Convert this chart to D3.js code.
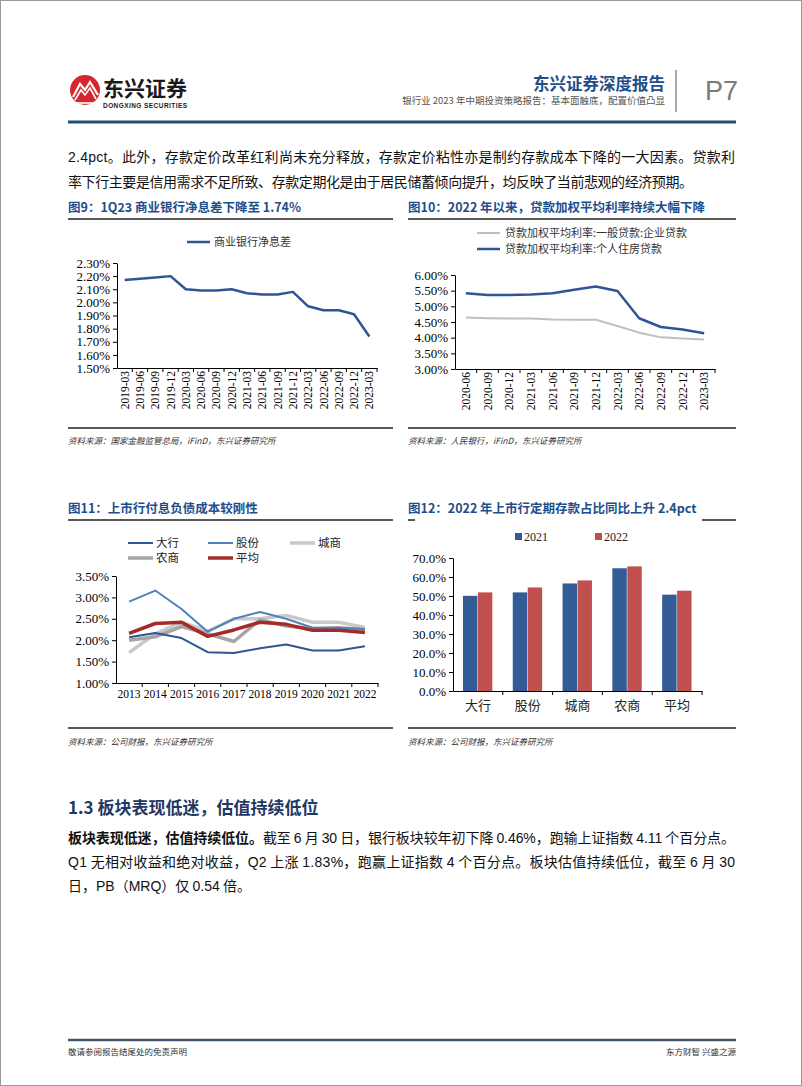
<!DOCTYPE html>
<html><head><meta charset="utf-8">
<script src="https://cdn.jsdelivr.net/npm/d3@7"></script>
<style>body{margin:0;background:#fff}svg{display:block}</style></head>
<body>
<svg id="c" width="802" height="1086"></svg>
<script>
// ---------- data ----------
const nimCats = ["2019-03","2019-06","2019-09","2019-12","2020-03","2020-06","2020-09","2020-12","2021-03","2021-06","2021-09","2021-12","2022-03","2022-06","2022-09","2022-12","2023-03"];
const nimValues = [2.17,2.18,2.19,2.20,2.10,2.09,2.09,2.10,2.07,2.06,2.06,2.08,1.97,1.94,1.94,1.91,1.74];
const nimTicks = [1.5,1.6,1.7,1.8,1.9,2.0,2.1,2.2,2.3];

const rateCats = ["2020-06","2020-09","2020-12","2021-03","2021-06","2021-09","2021-12","2022-03","2022-06","2022-09","2022-12","2023-03"];
const corpLoanRate = [4.64,4.62,4.61,4.61,4.58,4.57,4.57,4.37,4.16,4.01,3.97,3.94];
const mortgageRate = [5.42,5.36,5.36,5.38,5.42,5.53,5.63,5.49,4.62,4.34,4.26,4.14];
const rateTicks = [3.0,3.5,4.0,4.5,5.0,5.5,6.0];

const years = ["2013","2014","2015","2016","2017","2018","2019","2020","2021","2022"];
const costBig = [2.07,2.17,2.05,1.72,1.70,1.81,1.90,1.76,1.76,1.86];
const costJoint = [2.90,3.16,2.73,2.20,2.50,2.66,2.50,2.29,2.29,2.26];
const costCity = [1.71,2.15,2.42,2.21,2.50,2.50,2.58,2.42,2.42,2.30];
const costRural = [2.00,2.08,2.32,2.15,1.97,2.48,2.33,2.27,2.29,2.25];
const costAvg = [2.16,2.39,2.42,2.09,2.24,2.42,2.37,2.23,2.23,2.18];
const costTicks = [1.0,1.5,2.0,2.5,3.0,3.5];

const bankTypes = ["大行","股份","城商","农商","平均"];
const time2021 = [50.1,51.9,56.6,64.6,50.7];
const time2022 = [51.9,54.5,58.2,65.6,52.8];
const shareTicks = [0,10,20,30,40,50,60,70];

// ---------- setup ----------
const svg = d3.select("#c");
const CJK = "'Noto Sans CJK SC','Noto Sans',sans-serif";
const SERIF = "'Liberation Serif','DejaVu Serif',serif";
const SANS = "'Liberation Sans',Arial,'Noto Sans CJK SC',sans-serif";
const BLUE = "#2f5597", TITLE = "#1f4e8c";

svg.append("rect").attr("x",0.5).attr("y",0.5).attr("width",801).attr("height",1085)
  .attr("fill","#fff").attr("stroke","#9a9a9a");

// ---------- header ----------
const logo = svg.append("g");
logo.append("circle").attr("cx",85).attr("cy",90).attr("r",15).attr("fill","#d7262e");
logo.append("path").attr("d","M73,97 L80,84 L85,90 L90,82 L98,95").attr("fill","none").attr("stroke","#fff").attr("stroke-width",2.2);
logo.append("path").attr("d","M75,100 L81,90 L85,95 L90,88 L96,99").attr("fill","none").attr("stroke","#fff").attr("stroke-width",1.6);
logo.append("path").attr("d","M74,103 L96,103").attr("stroke","#fff").attr("stroke-width",1.6);
svg.append("text").attr("x",103).attr("y",96).text("东兴证券")
  .attr("font-family",CJK).attr("font-weight","bold").attr("font-size",21).attr("fill","#1a1a1a").attr("textLength",84);
svg.append("text").attr("x",103).attr("y",108).text("DONGXING SECURITIES")
  .attr("font-family",SANS).attr("font-weight","bold").attr("font-size",6.5).attr("fill","#1a1a1a").attr("textLength",84);

svg.append("text").attr("x",665).attr("y",90).attr("text-anchor","end").text("东兴证券深度报告")
  .attr("font-family",CJK).attr("font-weight","bold").attr("font-size",16.5).attr("fill",TITLE);
svg.append("text").attr("x",665).attr("y",104).attr("text-anchor","end")
  .text("银行业 2023 年中期投资策略报告：基本面触底，配置价值凸显")
  .attr("font-family",CJK).attr("font-size",9.5).attr("fill","#555");
svg.append("line").attr("x1",676).attr("x2",676).attr("y1",70).attr("y2",112).attr("stroke","#8c8c8c").attr("stroke-width",1.5);
svg.append("text").attr("x",705).attr("y",100).text("P7")
  .attr("font-family",SANS).attr("font-size",27).attr("fill","#7a7a7a");
svg.append("line").attr("x1",68).attr("x2",736).attr("y1",122).attr("y2",122).attr("stroke","#1f4e79").attr("stroke-width",3);

// ---------- paragraphs ----------
function para(y, parts, len, size){
  const t = svg.append("text").attr("x",68).attr("y",y).attr("font-size",size||14).attr("fill","#111");
  parts.forEach(p=>{
    t.append("tspan").text(p.t).attr("font-family",p.f||CJK).attr("font-weight",p.b?"bold":"normal");
  });
  if(len){ t.attr("textLength",len).attr("lengthAdjust","spacing"); }
  return t;
}
para(162,[{t:"2.4pct",f:SANS},{t:"。此外，存款定价改革红利尚未充分释放，存款定价粘性亦是制约存款成本下降的一大因素。贷款利"}],667);
para(187,[{t:"率下行主要是信用需求不足所致、存款定期化是由于居民储蓄倾向提升，均反映了当前悲观的经济预期。"}],625);

// ---------- chart frame helpers ----------
function title(x,y,text){
  svg.append("text").attr("x",x).attr("y",y).text(text)
    .attr("font-family",CJK).attr("font-weight","bold").attr("font-size",12.5).attr("fill",TITLE);
}
function rule(x1,x2,y,w,c){
  svg.append("line").attr("x1",x1).attr("x2",x2).attr("y1",y).attr("y2",y).attr("stroke",c||"#222").attr("stroke-width",w||1.5);
}
function source(x,y,text){
  svg.append("text").attr("x",x).attr("y",y).text(text)
    .attr("font-family",CJK).attr("font-style","italic").attr("font-size",8.5).attr("fill","#333");
}
function yAxis(scale, x, ticks, fmt){
  const g = svg.append("g").attr("transform",`translate(${x},0)`)
    .call(d3.axisLeft(scale).tickValues(ticks).tickFormat(fmt).tickSize(4).tickSizeOuter(0).tickPadding(3));
  g.select(".domain").attr("stroke","#000");
  g.selectAll(".tick line").attr("stroke","#000");
  g.selectAll("text").attr("font-family",SERIF).attr("font-size",13).attr("fill","#000");
  return g;
}
function xAxisBand(scale, y, rotate, fontFamily, fontSize){
  const g = svg.append("g").attr("transform",`translate(0,${y})`)
    .call(d3.axisBottom(scale).tickSize(0).tickSizeOuter(0).tickPadding(rotate?3:7));
  g.select(".domain").attr("stroke","#000");
  g.selectAll("text").attr("font-family",fontFamily||SERIF).attr("font-size",fontSize||12).attr("fill","#000");
  if(rotate){
    g.selectAll(".tick text").attr("transform","rotate(-90)").attr("text-anchor","end")
      .attr("x",-3).attr("y",0).attr("dy","0.35em").attr("font-size",11.5);
  }
  const st = scale.step();
  const r = scale.range();
  const n = scale.domain().length;
  for(let i=1;i<=n;i++){
    const xx = r[0] + i*st;
    g.append("line").attr("x1",xx).attr("x2",xx).attr("y1",0).attr("y2",4).attr("stroke","#000");
  }
  return g;
}

// ---------- chart 9 ----------
title(68,212,"图9：1Q23 商业银行净息差下降至 1.74%");
rule(68,393,219,1.5);
{
  const x = d3.scaleBand().domain(nimCats).range([117,377]);
  const y = d3.scaleLinear().domain([1.5,2.3]).range([368,263]);
  yAxis(y,117,nimTicks,d=>d.toFixed(2)+"%");
  xAxisBand(x,368,true);
  const line = d3.line().x((d,i)=>x(nimCats[i])+x.bandwidth()/2).y(d=>y(d));
  svg.append("path").datum(nimValues).attr("d",line).attr("fill","none").attr("stroke",BLUE).attr("stroke-width",2.5).attr("stroke-linejoin","round");
  svg.append("line").attr("x1",187).attr("x2",210).attr("y1",242).attr("y2",242).attr("stroke",BLUE).attr("stroke-width",2.5);
  svg.append("text").attr("x",214).attr("y",246).text("商业银行净息差").attr("font-family",CJK).attr("font-size",11).attr("fill","#333");
}
rule(68,393,428,1.5);
source(68,444,"资料来源：国家金融监管总局，iFinD，东兴证券研究所");

// ---------- chart 10 ----------
title(408,212,"图10：2022 年以来，贷款加权平均利率持续大幅下降");
rule(408,736,219,1.5);
{
  const x = d3.scaleBand().domain(rateCats).range([455,715]);
  const y = d3.scaleLinear().domain([3,6]).range([369,275]);
  yAxis(y,455,rateTicks,d=>d.toFixed(2)+"%");
  xAxisBand(x,369,true);
  const line = arr => d3.line().x((d,i)=>x(rateCats[i])+x.bandwidth()/2).y(d=>y(d))(arr);
  svg.append("path").attr("d",line(corpLoanRate)).attr("fill","none").attr("stroke","#bfbfbf").attr("stroke-width",2).attr("stroke-linejoin","round");
  svg.append("path").attr("d",line(mortgageRate)).attr("fill","none").attr("stroke",BLUE).attr("stroke-width",2.5).attr("stroke-linejoin","round");
  svg.append("line").attr("x1",477).attr("x2",500).attr("y1",233).attr("y2",233).attr("stroke","#bfbfbf").attr("stroke-width",2);
  svg.append("text").attr("x",505).attr("y",237).text("贷款加权平均利率:一般贷款:企业贷款").attr("font-family",CJK).attr("font-size",11).attr("fill","#333");
  svg.append("line").attr("x1",477).attr("x2",500).attr("y1",249).attr("y2",249).attr("stroke",BLUE).attr("stroke-width",2.5);
  svg.append("text").attr("x",505).attr("y",253).text("贷款加权平均利率:个人住房贷款").attr("font-family",CJK).attr("font-size",11).attr("fill","#333");
}
rule(408,736,428,1.5);
source(408,444,"资料来源：人民银行，iFinD，东兴证券研究所");

// ---------- chart 11 ----------
title(68,513,"图11：上市行付息负债成本较刚性");
rule(68,393,520,1.5);
{
  const x = d3.scaleBand().domain(years).range([116,378]);
  const y = d3.scaleLinear().domain([1,3.5]).range([683,576]);
  yAxis(y,116,costTicks,d=>d.toFixed(2)+"%");
  xAxisBand(x,683,false,SERIF,11.5);
  const line = arr => d3.line().x((d,i)=>x(years[i])+x.bandwidth()/2).y(d=>y(d))(arr);
  const series = [
    {name:"大行",v:costBig,c:"#2f5597",w:2,lx:128,ly:543},
    {name:"股份",v:costJoint,c:"#4f81bd",w:2,lx:208,ly:543},
    {name:"城商",v:costCity,c:"#c9c9c9",w:3.5,lx:290,ly:543},
    {name:"农商",v:costRural,c:"#a5a5a5",w:3.5,lx:128,ly:558},
    {name:"平均",v:costAvg,c:"#a52a2a",w:3.5,lx:208,ly:558}
  ];
  const order = [2,3,0,1,4];
  order.forEach(k=>{
    const s = series[k];
    svg.append("path").attr("d",line(s.v)).attr("fill","none").attr("stroke",s.c).attr("stroke-width",s.w).attr("stroke-linejoin","round");
  });
  series.forEach(s=>{
    svg.append("line").attr("x1",s.lx).attr("x2",s.lx+25).attr("y1",s.ly).attr("y2",s.ly).attr("stroke",s.c).attr("stroke-width",s.w);
    svg.append("text").attr("x",s.lx+28).attr("y",s.ly+4).text(s.name).attr("font-family",CJK).attr("font-size",11.5).attr("fill","#222");
  });
}
rule(68,393,728,1.5);
source(68,745,"资料来源：公司财报，东兴证券研究所");

// ---------- chart 12 ----------
title(408,513,"图12：2022 年上市行定期存款占比同比上升 2.4pct");
rule(408,415,520,1.5);
rule(702,736,520,1.5);
{
  const x0 = d3.scaleBand().domain(bankTypes).range([453,702]).paddingInner(0.4).paddingOuter(0.2);
  const x1 = d3.scaleBand().domain(["2021","2022"]).range([0,x0.bandwidth()]);
  const y = d3.scaleLinear().domain([0,70]).range([691,558]);
  yAxis(y,453,shareTicks,d=>d.toFixed(1)+"%");
  const colors = {"2021":"#335c96","2022":"#c0504d"};
  const data = bankTypes.map((b,i)=>({b, vals:[{k:"2021",v:time2021[i]},{k:"2022",v:time2022[i]}]}));
  const g = svg.append("g");
  data.forEach(d=>{
    d.vals.forEach(e=>{
      g.append("rect").attr("x",x0(d.b)+x1(e.k)).attr("width",x1.bandwidth()-0.5)
        .attr("y",y(e.v)).attr("height",y(0)-y(e.v)).attr("fill",colors[e.k]);
    });
  });
  const ax = svg.append("g").attr("transform","translate(0,691)")
    .call(d3.axisBottom(x0).tickSize(0).tickSizeOuter(0).tickPadding(10));
  ax.select(".domain").attr("stroke","#000");
  ax.selectAll("text").attr("font-family",CJK).attr("font-size",13).attr("fill","#222");
  const st = x0.step();
  for(let i=1;i<=5;i++){
    const xx = 453 + i*st;
    ax.append("line").attr("x1",xx).attr("x2",xx).attr("y1",0).attr("y2",4).attr("stroke","#000");
  }
  [["2021",515],["2022",595]].forEach(([k,lx])=>{
    svg.append("rect").attr("x",lx).attr("y",533).attr("width",7).attr("height",7).attr("fill",colors[k]);
    svg.append("text").attr("x",lx+9).attr("y",541).text(k).attr("font-family",SERIF).attr("font-size",12).attr("fill","#222");
  });
}
rule(408,736,728,1.5);
source(408,745,"资料来源：公司财报，东兴证券研究所");

// ---------- section ----------
svg.append("text").attr("x",68).attr("y",814).text("1.3 板块表现低迷，估值持续低位")
  .attr("font-family",CJK).attr("font-weight","bold").attr("font-size",17).attr("fill","#1f3864");
para(843,[{t:"板块表现低迷，估值持续低位。",b:true},{t:"截至 "},{t:"6",f:SANS},{t:" 月 "},{t:"30",f:SANS},{t:" 日，银行板块较年初下降 "},{t:"0.46%",f:SANS},{t:"，跑输上证指数 "},{t:"4.11",f:SANS},{t:" 个百分点。"}],667);
para(867,[{t:"Q1",f:SANS},{t:" 无相对收益和绝对收益，"},{t:"Q2",f:SANS},{t:" 上涨 "},{t:"1.83%",f:SANS},{t:"，跑赢上证指数 "},{t:"4",f:SANS},{t:" 个百分点。板块估值持续低位，截至 "},{t:"6",f:SANS},{t:" 月 "},{t:"30",f:SANS}],667);
para(891,[{t:"日，"},{t:"PB",f:SANS},{t:"（"},{t:"MRQ",f:SANS},{t:"）仅 "},{t:"0.54",f:SANS},{t:" 倍。"}]);

// ---------- footer ----------
rule(68,736,1040,2.5,"#44546a");
svg.append("text").attr("x",68).attr("y",1055).text("敬请参阅报告结尾处的免责声明")
  .attr("font-family",CJK).attr("font-size",8.5).attr("fill","#333");
svg.append("text").attr("x",736).attr("y",1055).attr("text-anchor","end").text("东方财智 兴盛之源")
  .attr("font-family",CJK).attr("font-size",8.5).attr("fill","#333");
</script>
</body></html>
